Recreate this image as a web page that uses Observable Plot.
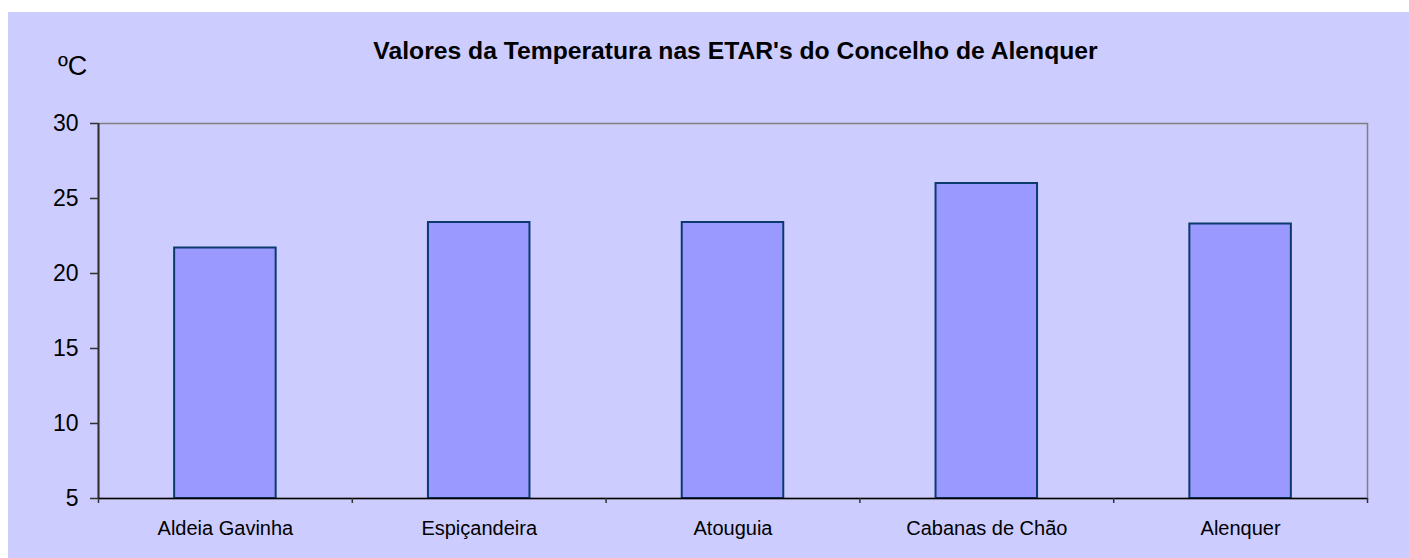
<!DOCTYPE html>
<html>
<head>
<meta charset="utf-8">
<script src="https://cdn.jsdelivr.net/npm/d3@7"></script>
<script src="https://cdn.jsdelivr.net/npm/@observablehq/plot@0.6"></script>
<style>
  html, body { margin: 0; padding: 0; background: #ffffff; }
  #wrap { position: absolute; left: 8px; top: 12px; width: 1401px; height: 546px; background: #CCCCFF; font-family: "Liberation Sans", Arial, sans-serif; overflow: hidden; }
  #title { position: absolute; left: 93px; width: 1269px; top: 25px; text-align: center; font-weight: bold; font-size: 24.7px; color: #000; white-space: nowrap; }
  #unit { position: absolute; left: 50px; top: 39px; font-size: 27px; color: #000; }
  #chart { position: absolute; left: 0; top: 0; }
</style>
</head>
<body>
<div id="wrap">
  <div id="chart"></div>
  <div id="title">Valores da Temperatura nas ETAR's do Concelho de Alenquer</div>
  <div id="unit">ºC</div>
</div>
<script>
const categories = ["Aldeia Gavinha", "Espiçandeira", "Atouguia", "Cabanas de Chão", "Alenquer"];
const temperatures = [21.7, 23.4, 23.4, 26.0, 23.3];
const yTicks = [5, 10, 15, 20, 25, 30];

const data = categories.map((c, i) => ({ name: c, i, value: temperatures[i] }));
const yMin = d3.min(yTicks), yMax = d3.max(yTicks);
const boundaries = d3.range(categories.length + 1);

const chart = Plot.plot({
  width: 1401,
  height: 546,
  marginLeft: 90,
  marginRight: 42,
  marginTop: 111,
  marginBottom: 60,
  style: { background: "transparent", fontFamily: "Liberation Sans, Arial, sans-serif", color: "#000" },
  x: { domain: [0, categories.length], axis: null },
  y: { domain: [yMin, yMax], axis: null },
  marks: [
    Plot.frame({ stroke: "#808080", strokeWidth: 1.5 }),
    Plot.rectY(data, {
      x1: d => d.i + 0.3,
      x2: d => d.i + 0.7,
      y1: yMin,
      y2: "value",
      fill: "#9999FF",
      stroke: "#0A3A6E",
      strokeWidth: 2
    }),
    Plot.ruleX([0], { stroke: "#333333", strokeWidth: 2 }),
    Plot.ruleY([yMin], { stroke: "#000000", strokeWidth: 1.5 }),
    Plot.axisY({ ticks: yTicks, label: null, tickSize: 8, tickPadding: 12, fontSize: 23, stroke: "#333333", strokeWidth: 1.5, tickFormat: d => String(d) }),
    Plot.axisX({ ticks: boundaries, label: null, tickSize: 5, tickFormat: () => "", stroke: "#333333", strokeWidth: 1.5 }),
    Plot.axisX({ ticks: data.map(d => d.i + 0.5), label: null, tickSize: 0, tickPadding: 22, fontSize: 20, tickFormat: d => categories[Math.floor(d)] })
  ]
});
document.getElementById("chart").appendChild(chart);
</script>
</body>
</html>
